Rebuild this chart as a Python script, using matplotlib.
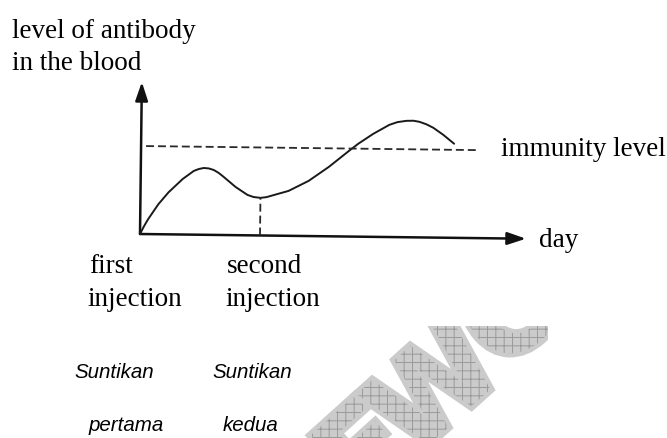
import matplotlib
matplotlib.use("Agg")
import matplotlib.pyplot as plt
import matplotlib.patheffects as pe
from matplotlib.patches import FancyArrowPatch, PathPatch, ArrowStyle
from matplotlib.textpath import TextPath
from matplotlib.font_manager import FontProperties
from matplotlib.transforms import Affine2D, Bbox

# curve (day, antibody level), 10 px per unit
days = [0, 0.4, 0.8, 1.8, 2.8, 4.2, 5.3, 5.8, 6.3, 6.8, 7.3, 7.8, 8.3, 9.5,
        10.7, 11.3, 12.0, 12.6, 13.2, 14.8, 16.8, 18.8, 20.8, 21.7, 23.2,
        24.8, 25.6, 26.5, 27.2, 27.8, 28.5, 29.2, 30.2, 31.3]
levels = [0, 0.8, 1.5, 3.0, 4.2, 5.55, 6.37, 6.57, 6.68, 6.64, 6.49, 6.2, 5.81,
          4.82, 4.04, 3.84, 3.76, 3.84, 4.02, 4.49, 5.52, 6.94, 8.57, 9.28,
          10.3, 11.22, 11.5, 11.64, 11.66, 11.56, 11.32, 10.98, 10.29, 9.41]
immunity_level = 8.8
immunity_span = [0.5, 33.7]
second_injection_day = 12.0
x_axis_end = 38.6
y_axis_end = 15.2

serif = "Liberation Serif"
sans = "Liberation Sans"

fig = plt.figure(figsize=(6.67, 4.39), dpi=100)
ax = fig.add_axes([0, 0, 1, 1])
ax.set_xlim(-14.0, 52.7)
ax.set_ylim(-20.4, 23.5)
ax.axis("off")

# the scan is tilted a little clockwise
rot = Affine2D().rotate_deg_around(140, 204, -0.7)
tr = ax.transData + rot

# grey watermark letters, cut off at the top (pixel centres, y from top)
plt.rcParams["hatch.linewidth"] = 0.7
wm_font = FontProperties(family="DejaVu Sans", weight="bold")
for letter, cx, cy in [("E", 362, 448), ("W", 431, 386), ("C", 505, 314)]:
    p = TextPath((0, 0), letter, size=118, prop=wm_font)
    bb = p.get_extents()
    t = (Affine2D().translate(-(bb.x0 + bb.x1) / 2, -(bb.y0 + bb.y1) / 2)
         .rotate_deg(42).translate(cx, 439 - cy))
    mark = PathPatch(t.transform_path(p), transform=None,
                     facecolor="#cbcbcb", edgecolor="#9a9a9a", lw=0, hatch="++")
    mark.set_path_effects([pe.Stroke(linewidth=6, foreground="#cbcbcb"), pe.Normal()])
    mark.set_clip_box(Bbox.from_extents(0, 0, 548, 112))
    fig.add_artist(mark)

# axes with arrow heads
head = ArrowStyle("-|>", head_length=0.8, head_width=0.27)
for end in [(x_axis_end, 0), (0, y_axis_end)]:
    arr = FancyArrowPatch((0, 0), end, transform=tr, arrowstyle=head,
                          mutation_scale=14, lw=1.8, color="#111111",
                          shrinkA=0, shrinkB=0)
    ax.add_patch(arr)

# antibody curve
ax.plot(days, levels, color="#1a1a1a", lw=1.4, transform=tr,
        solid_capstyle="round", solid_joinstyle="round")

# immunity level and second injection markers
ax.plot(immunity_span, [immunity_level, immunity_level], color="#2a2a2a",
        lw=1.3, ls=(0, (4.4, 2.2)), transform=tr)
min_level = levels[days.index(second_injection_day)]
ax.plot([second_injection_day, second_injection_day], [0, min_level],
        color="#2a2a2a", lw=1.3, ls=(0, (4.4, 2.2)), transform=tr)

# labels
fs = 19.5
ax.text(-12.8, 19.7, "level of antibody", family=serif, fontsize=fs, va="baseline")
ax.text(-12.8, 16.5, "in the blood", family=serif, fontsize=fs, va="baseline")
ax.text(36.1, 7.9, "immunity level", family=serif, fontsize=fs, va="baseline")
ax.text(39.9, -1.2, "day", family=serif, fontsize=fs, va="baseline")
ax.text(-5.1, -3.8, "first", family=serif, fontsize=fs, va="baseline")
ax.text(-5.3, -7.1, "injection", family=serif, fontsize=fs, va="baseline")
ax.text(8.7, -3.8, "second", family=serif, fontsize=fs, va="baseline")
ax.text(8.5, -7.1, "injection", family=serif, fontsize=fs, va="baseline")

ax.text(-6.6, -14.3, "Suntikan", family=sans, style="italic", fontsize=14.8, va="baseline")
ax.text(-5.1, -19.6, "pertama", family=sans, style="italic", fontsize=14.8, va="baseline")
ax.text(7.2, -14.3, "Suntikan", family=sans, style="italic", fontsize=14.8, va="baseline")
ax.text(8.3, -19.6, "kedua", family=sans, style="italic", fontsize=14.8, va="baseline")

fig.savefig("out.png", dpi=100)
